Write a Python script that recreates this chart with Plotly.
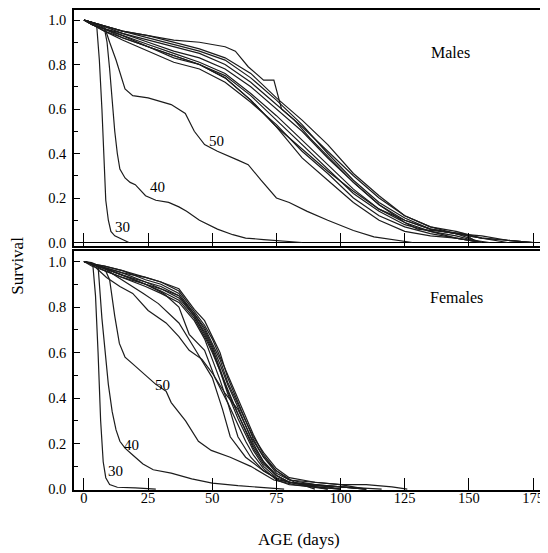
import plotly.graph_objects as go

# ---- data ----
TICK_DAYS = [0, 25, 50, 75, 100, 125, 150, 175]

# males, controls (shared day grid)
MALE_DAYS = [0, 3, 8, 15, 25, 35, 45, 55, 65, 75, 85, 95, 105, 115, 125, 135, 145, 155, 165, 175]
male_c2 = [1, 0.99, 0.97, 0.95, 0.92, 0.89, 0.86, 0.82, 0.74, 0.64, 0.53, 0.40, 0.28, 0.18, 0.11, 0.06, 0.04, 0.02, 0.01, 0]
male_c3 = [1, 0.98, 0.96, 0.94, 0.90, 0.86, 0.83, 0.78, 0.70, 0.60, 0.50, 0.38, 0.27, 0.17, 0.10, 0.06, 0.04, 0]
male_c4 = [1, 0.99, 0.96, 0.93, 0.89, 0.85, 0.81, 0.76, 0.67, 0.57, 0.46, 0.35, 0.24, 0.15, 0.09, 0.05, 0.03, 0]
male_c5 = [1, 0.98, 0.95, 0.92, 0.88, 0.83, 0.80, 0.75, 0.66, 0.55, 0.44, 0.33, 0.22, 0.14, 0.08, 0.05, 0.02, 0]
male_c6 = [1, 0.99, 0.97, 0.94, 0.91, 0.88, 0.85, 0.80, 0.72, 0.62, 0.52, 0.41, 0.30, 0.20, 0.12, 0.07, 0.04, 0.03, 0.01, 0]
male_c7 = [1, 0.98, 0.96, 0.93, 0.88, 0.84, 0.80, 0.74, 0.64, 0.52, 0.42, 0.32, 0.23, 0.15, 0.10, 0.06, 0.04, 0.02, 0.01, 0]
male_c8 = [1, 0.98, 0.95, 0.91, 0.86, 0.81, 0.78, 0.72, 0.63, 0.53, 0.41, 0.31, 0.20, 0.12, 0.07, 0.04, 0.02, 0]
male_c9 = [1, 0.99, 0.97, 0.95, 0.93, 0.90, 0.87, 0.83, 0.76, 0.65, 0.55, 0.44, 0.31, 0.21, 0.12, 0.07, 0.05, 0.02, 0]
male_c10 = [1, 0.98, 0.96, 0.92, 0.88, 0.84, 0.80, 0.74, 0.64, 0.52, 0.38, 0.28, 0.18, 0.10, 0.05, 0.03, 0.02, 0]

# the control curve with the plateau
male_c1_days = [0, 3, 8, 15, 25, 35, 45, 55, 59, 64, 70, 74, 77, 82, 88, 94, 100, 105, 110, 115, 120, 125, 130, 140, 148, 152, 158]
male_c1 = [1, 0.99, 0.97, 0.95, 0.93, 0.91, 0.90, 0.88, 0.86, 0.79, 0.73, 0.73, 0.60, 0.55, 0.47, 0.40, 0.33, 0.27, 0.22, 0.17, 0.13, 0.09, 0.06, 0.05, 0.04, 0.01, 0]

male_30_days = [0, 3, 5, 6, 7, 8, 8.5, 9.5, 10.5, 12, 14, 17.5]
male_30 = [1, 0.99, 0.97, 0.82, 0.60, 0.35, 0.19, 0.10, 0.05, 0.03, 0.02, 0]
male_40_days = [0, 3, 6, 8, 9, 10, 11, 12, 13, 14, 16, 18, 20, 24, 28, 33, 37, 40, 45, 52, 58, 63, 70, 78, 85]
male_40 = [1, 0.99, 0.98, 0.96, 0.90, 0.78, 0.63, 0.50, 0.40, 0.33, 0.29, 0.27, 0.26, 0.21, 0.19, 0.18, 0.16, 0.14, 0.10, 0.06, 0.035, 0.02, 0.013, 0.005, 0]
male_50_days = [0, 3, 8, 10, 12.5, 16, 19, 25, 34, 39.5, 43, 47, 52, 60, 64, 69, 75, 80, 87, 95, 105, 113, 123, 128]
male_50 = [1, 0.99, 0.97, 0.90, 0.82, 0.69, 0.66, 0.65, 0.62, 0.58, 0.50, 0.44, 0.41, 0.37, 0.35, 0.28, 0.20, 0.18, 0.14, 0.10, 0.054, 0.025, 0.01, 0]

# females, controls (shared day grid)
FEMALE_DAYS = [0, 3, 8, 15, 24, 30, 37, 43, 47, 50, 53, 56, 60, 63, 66, 70, 75, 80, 90, 100, 110, 120, 126]
fem_c1 = [1, 0.99, 0.97, 0.95, 0.93, 0.91, 0.87, 0.78, 0.72, 0.66, 0.58, 0.50, 0.40, 0.32, 0.24, 0.15, 0.08, 0.04, 0.02, 0.01, 0]
fem_c2 = [1, 0.99, 0.98, 0.96, 0.92, 0.90, 0.86, 0.77, 0.70, 0.63, 0.55, 0.46, 0.36, 0.28, 0.20, 0.12, 0.06, 0.03, 0.02, 0]
fem_c3 = [1, 0.995, 0.97, 0.94, 0.90, 0.88, 0.84, 0.76, 0.68, 0.61, 0.52, 0.42, 0.31, 0.24, 0.17, 0.10, 0.05, 0.03, 0.015, 0.01, 0]
fem_c4 = [1, 0.99, 0.96, 0.93, 0.89, 0.86, 0.82, 0.74, 0.66, 0.57, 0.48, 0.38, 0.28, 0.21, 0.15, 0.09, 0.04, 0.02, 0.01, 0]
fem_c5 = [1, 0.99, 0.98, 0.96, 0.93, 0.91, 0.88, 0.79, 0.74, 0.67, 0.60, 0.49, 0.38, 0.30, 0.22, 0.14, 0.07, 0.04, 0.03, 0.02, 0.02, 0.01, 0]
fem_c6 = [1, 0.98, 0.96, 0.93, 0.90, 0.87, 0.83, 0.75, 0.67, 0.60, 0.52, 0.44, 0.33, 0.26, 0.19, 0.12, 0.06, 0.03, 0.01, 0]
fem_c7 = [1, 0.99, 0.97, 0.95, 0.91, 0.89, 0.85, 0.77, 0.71, 0.64, 0.57, 0.47, 0.37, 0.30, 0.23, 0.16, 0.09, 0.05, 0.03, 0.02, 0]
fem_c8 = [1, 0.99, 0.97, 0.94, 0.91, 0.88, 0.85, 0.76, 0.69, 0.62, 0.53, 0.43, 0.33, 0.25, 0.18, 0.11, 0.06, 0.03, 0.02, 0.01, 0]

# females, intermediate curves
fem_a_days = [0, 3, 8.8, 14, 19, 25, 32, 37, 41, 46, 50, 55, 60, 65, 70, 75, 82, 90]
fem_a = [1, 0.99, 0.93, 0.89, 0.86, 0.785, 0.73, 0.67, 0.61, 0.57, 0.51, 0.42, 0.35, 0.23, 0.14, 0.08, 0.03, 0]
fem_b_days = [0, 3, 8, 12, 17.7, 23, 29, 37, 43, 50, 54, 57, 63, 70, 76, 85, 95]
fem_b = [1, 0.99, 0.97, 0.94, 0.90, 0.86, 0.815, 0.73, 0.62, 0.49, 0.35, 0.23, 0.14, 0.08, 0.04, 0.02, 0]
fem_c_days = [0, 3, 8, 15, 24, 31, 37, 41, 47, 51, 56, 60, 65, 70, 76, 85, 100, 116]
fem_c = [1, 0.99, 0.97, 0.94, 0.90, 0.86, 0.80, 0.68, 0.61, 0.49, 0.38, 0.23, 0.14, 0.08, 0.04, 0.02, 0.01, 0]

fem_30_days = [0, 2, 3.5, 4.5, 5.5, 6.5, 7.5, 8.5, 10, 13, 20, 28]
fem_30 = [1, 0.995, 0.98, 0.85, 0.60, 0.30, 0.12, 0.05, 0.02, 0.008, 0.005, 0]
fem_40_days = [0, 3, 5.5, 7, 8.5, 9.5, 11, 12.5, 14, 16, 19, 23, 27, 34, 42, 50, 60, 70, 78]
fem_40 = [1, 0.99, 0.98, 0.75, 0.58, 0.46, 0.34, 0.26, 0.21, 0.18, 0.15, 0.11, 0.085, 0.07, 0.045, 0.026, 0.015, 0.008, 0]
fem_50_days = [0, 3, 8, 10, 12, 13.8, 16, 19, 23, 28, 32, 34, 39.6, 44.6, 49.6, 57, 65, 74, 82, 95]
fem_50 = [1, 0.99, 0.97, 0.92, 0.76, 0.64, 0.58, 0.55, 0.51, 0.46, 0.43, 0.38, 0.30, 0.21, 0.17, 0.14, 0.10, 0.04, 0.02, 0]

male_curves = [(MALE_DAYS, c) for c in [male_c2, male_c3, male_c4, male_c5, male_c6,
                                        male_c7, male_c8, male_c9, male_c10]]
male_curves += [(male_c1_days, male_c1), (male_30_days, male_30),
                (male_40_days, male_40), (male_50_days, male_50)]

female_curves = [(FEMALE_DAYS, c) for c in [fem_c1, fem_c2, fem_c3, fem_c4,
                                            fem_c5, fem_c6, fem_c7, fem_c8]]
female_curves += [(fem_a_days, fem_a), (fem_b_days, fem_b), (fem_c_days, fem_c),
                  (fem_30_days, fem_30), (fem_40_days, fem_40), (fem_50_days, fem_50)]

SERIF = "Liberation Serif, Times New Roman, serif"
LINE = dict(color="#1c1c1c", width=1.2)

fig = go.Figure()
for days, surv in male_curves:
    fig.add_trace(go.Scatter(x=days[:len(surv)], y=surv, mode="lines", line=LINE,
                             xaxis="x", yaxis="y", showlegend=False, hoverinfo="skip"))
for days, surv in female_curves:
    fig.add_trace(go.Scatter(x=days[:len(surv)], y=surv, mode="lines", line=LINE,
                             xaxis="x2", yaxis="y2", showlegend=False, hoverinfo="skip"))

x_common = dict(range=[-3.88, 180.05], tickvals=TICK_DAYS, ticks="inside",
                tickcolor="black", tickwidth=1.3, showline=True, mirror=True,
                linecolor="black", linewidth=1.5, showgrid=False, zeroline=False,
                tickfont=dict(family=SERIF, size=14.5, color="black"))
y_common = dict(dtick=0.2, tick0=0, tickformat=".1f", ticks="inside", ticklen=6,
                tickcolor="black", tickwidth=1.2, ticklabelstandoff=3,
                minor=dict(dtick=0.1, tick0=0, ticks="inside", ticklen=4, tickcolor="black"),
                showline=True, mirror=True, linecolor="black", linewidth=1.5,
                showgrid=False, zeroline=True, zerolinecolor="black", zerolinewidth=1.3,
                tickfont=dict(family=SERIF, size=14.5, color="black"))

# the page adds an 8px body margin, so the figure is 8px smaller than the window
fig.update_layout(
    width=540, height=545,
    margin=dict(l=66, r=0, t=1, b=63),
    paper_bgcolor="white", plot_bgcolor="white",
    xaxis=dict(domain=[0, 1], anchor="y", showticklabels=False, ticklen=14, **x_common),
    yaxis=dict(domain=[0.5073, 1], anchor="x", range=[-0.018, 1.045], **y_common),
    xaxis2=dict(domain=[0, 1], anchor="y2", ticklen=12, ticklabelstandoff=-6, **x_common),
    yaxis2=dict(domain=[0, 0.4969], anchor="x2", range=[-0.004, 1.044], **y_common),
)

labels = [
    ("Males", 142.8, 0.852, "x", "y", 16),
    ("50", 51.8, 0.457, "x", "y", 15),
    ("40", 28.5, 0.248, "x", "y", 15),
    ("30", 15.1, 0.069, "x", "y", 15),
    ("Females", 145.1, 0.842, "x2", "y2", 16),
    ("50", 30.5, 0.456, "x2", "y2", 15),
    ("40", 18.6, 0.193, "x2", "y2", 15),
    ("30", 12.4, 0.079, "x2", "y2", 15),
]
for text, xx, yy, xr, yr, size in labels:
    fig.add_annotation(text=text, x=xx, y=yy, xref=xr, yref=yr, showarrow=False,
                       xanchor="center", yanchor="middle",
                       font=dict(family=SERIF, size=size, color="black"))

fig.add_annotation(text="Survival", x=-0.12, y=0.468, xref="paper", yref="paper",
                   xanchor="center", yanchor="middle", textangle=-90, showarrow=False,
                   font=dict(family=SERIF, size=17, color="black"))
fig.add_annotation(text="AGE (days)", x=0.477, y=-0.104, xref="paper", yref="paper",
                   xanchor="center", yanchor="middle", showarrow=False,
                   font=dict(family=SERIF, size=17, color="black"))

fig.write_html("out.html")
